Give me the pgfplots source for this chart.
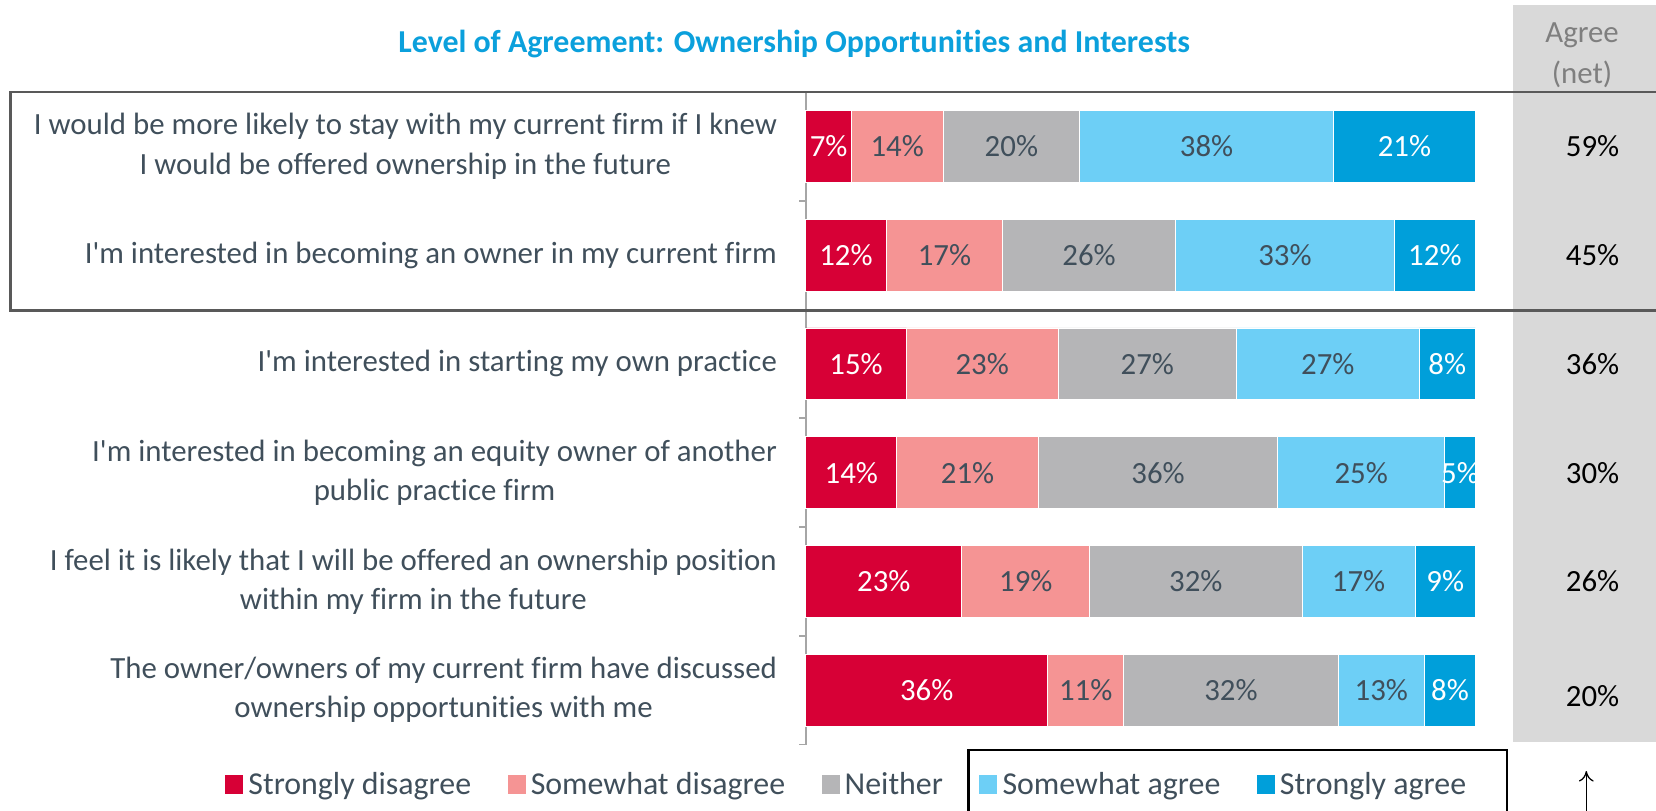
\documentclass[border=0pt]{standalone}
\usepackage{pgfplots}
\pgfplotsset{compat=1.18}
\usepackage{pgfplotstable}
\usepackage{fontspec}
\setmainfont{Carlito}[Ligatures={NoCommon}]
\usetikzlibrary{arrows.meta}

\definecolor{csd}{HTML}{D70036}
\definecolor{cswd}{HTML}{F59494}
\definecolor{cnei}{HTML}{B5B5B7}
\definecolor{cswa}{HTML}{6DCFF6}
\definecolor{csa}{HTML}{009FDA}
\definecolor{txt}{HTML}{404F5B}
\definecolor{titleblue}{HTML}{0BA0DC}
\definecolor{panel}{HTML}{D9D9D9}
\definecolor{agreegrey}{HTML}{7F7F7F}
\definecolor{boxline}{HTML}{595959}
\definecolor{axisgrey}{HTML}{A6A6A6}

\pgfplotstableread{
row sd swd nei swa sa
0 6.8 13.7 20.4 37.9 21.2
1 12.0 17.4 25.8 32.7 12.1
2 15.0 22.7 26.6 27.3 8.4
3 13.6 21.1 35.8 24.9 4.6
4 23.3 19.1 31.7 16.9 9.0
5 36.1 11.4 32.0 12.9 7.6
}\datatable

\newcommand{\fs}{\fontsize{14.6}{18.5}\selectfont}
\newcommand{\fl}{\fontsize{15.1}{18.5}\selectfont}
\newcommand{\q}{\textquotesingle}
\pgfplotsset{sqlegend/.style={legend image code/.code={\fill[##1] (0pt,-4.75pt) rectangle (9pt,4.75pt);}}}

\begin{document}
\begin{tikzpicture}
\useasboundingbox (0pt,0pt) rectangle (784pt,-383.5pt);
\clip (0pt,0pt) rectangle (784pt,-383.5pt);
\begin{scope}[x=0.5pt,y=-0.5pt]
\fill[panel] (1433,5) rectangle (1570,703);
\node[agreegrey, font=\fs] at (1498,33) {Agree};
\node[agreegrey, font=\fs] at (1498,70) {(net)};
\node[titleblue, font=\fontsize{15.1}{18}\selectfont\bfseries] at (752,42) {Level of Agreement: Ownership Opportunities and Interests};
\end{scope}

\begin{axis}[
  at={(381.5pt,-352.5pt)}, anchor=south west,
  scale only axis, width=317pt, height=309pt,
  xbar stacked, bar width=34pt,
  xmin=0, xmax=100, ymin=-0.5, ymax=5.5, y dir=reverse,
  axis x line=none, axis y line*=left,
  axis line style={axisgrey, line width=0.8pt},
  clip=false,
  ytick={0,...,5},
  yticklabels={{I would be more likely to stay with my current firm if I knew\\I would be offered ownership in the future},
    {I\q m interested in becoming an owner in my current firm},
    {I\q m interested in starting my own practice},
    {I\q m interested in becoming an equity owner of another\\public practice firm},
    {I feel it is likely that I will be offered an ownership position\\within my firm in the future},
    {The owner/owners of my current firm have discussed\\ownership opportunities with me}},
  major tick length=0pt,
  minor ytick={-0.5,0.5,...,5.5},
  minor tick length=3pt, tick align=outside,
  minor tick style={axisgrey, line width=0.8pt},
  yticklabel style={font=\fs, text=txt, align=center, inner sep=0pt, xshift=-13.5pt},
  /pgf/number format/assume math mode=true,
  point meta=explicit,
  nodes near coords={\pgfmathprintnumber[fixed,precision=0]{\pgfplotspointmeta}\%},
  every node near coord/.append style={anchor=center, font=\fs},
  legend columns=5,
  legend style={draw=none, fill=none, inner sep=0pt, font=\fl, text=txt,
    at={(axis description cs:-0.869,-0.0615)}, anchor=west,
    /tikz/every even column/.append style={column sep=14.8pt}},
  legend cell align=left,
]
\addplot[sqlegend, fill=csd, draw=white, line width=0.4pt, every node near coord/.append style={text=white}] table[x=sd, y=row, meta=sd] {\datatable};
\addlegendentry{Strongly disagree}
\addplot[sqlegend, fill=cswd, draw=white, line width=0.4pt, every node near coord/.append style={text=txt}] table[x=swd, y=row, meta=swd] {\datatable};
\addlegendentry{Somewhat disagree}
\addplot[sqlegend, fill=cnei, draw=white, line width=0.4pt, every node near coord/.append style={text=txt}] table[x=nei, y=row, meta=nei] {\datatable};
\addlegendentry{Neither}
\addplot[sqlegend, fill=cswa, draw=white, line width=0.4pt, every node near coord/.append style={text=txt}] table[x=swa, y=row, meta=swa] {\datatable};
\addlegendentry{Somewhat agree}
\addplot[sqlegend, fill=csa, draw=white, line width=0.4pt, every node near coord/.append style={text=white}] table[x=sa, y=row, meta=sa] {\datatable};
\addlegendentry{Strongly agree}
\end{axis}

\begin{axis}[
  at={(381.5pt,-352.5pt)}, anchor=south west,
  scale only axis, width=317pt, height=309pt,
  xmin=0, xmax=100, ymin=-0.5, ymax=5.5, y dir=reverse,
  hide axis, clip=false,
  /pgf/number format/assume math mode=true,
]
\addplot[draw=none, point meta=explicit,
  nodes near coords={\pgfmathprintnumber{\pgfplotspointmeta}\%},
  every node near coord/.style={anchor=center, font=\fs, text=black}]
  coordinates {(117.5,0) [59] (117.5,1) [45] (117.5,2) [36] (117.5,3) [30] (117.5,4) [26] (117.5,5.05) [20]};
\end{axis}

\begin{scope}[x=0.5pt,y=-0.5pt]
\draw[boxline, line width=1.1pt] (1575,87) -- (10,87) -- (10,294) -- (1575,294);
\draw[black, line width=1.1pt] (917,775) -- (917,710) -- (1427,710) -- (1427,775);
\draw[black, line width=0.6pt, -{To[length=5pt,width=7pt]}] (1502,775) -- (1502,730);
\end{scope}
\end{tikzpicture}
\end{document}
